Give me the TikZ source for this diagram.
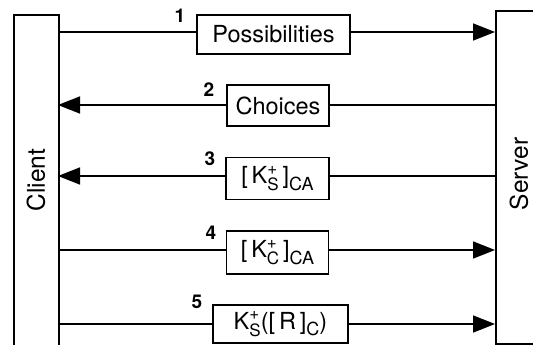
\documentclass[tikz,border=0pt]{standalone}
\usepackage{fontspec}
\setmainfont{TeX Gyre Heros}
\usetikzlibrary{arrows.meta}
\newcommand\supsubx[2]{\rlap{\raisebox{.8ex}{\fontsize{17}{17}\selectfont #1}}\raisebox{-.55ex}{\fontsize{17}{17}\selectfont #2}}
\newcommand\subx[1]{\raisebox{-.5ex}{\fontsize{18}{18}\selectfont #1}}
\begin{document}
\begin{tikzpicture}[x=1pt,y=-1pt,
  lane/.style={draw,line width=1.6pt,minimum width=45pt,inner sep=0pt},
  msgbox/.style={draw,line width=1.6pt,inner sep=0pt,font=\fontsize{23.5}{23.5}\selectfont},
  lanelabel/.style={rotate=90,font=\fontsize{24.5}{24.5}\selectfont,inner sep=0pt},
  num/.style={font=\fontsize{19}{19}\selectfont\bfseries,inner sep=0pt},
  conn/.style={line width=1.7pt},
  tip/.style={-{Triangle[length=22pt,width=17pt]}}]
\useasboundingbox (0,0) rectangle (533,345);
\clip (0,0) rectangle (533,345);
\fill[white] (0,0) rectangle (533,345);
% lanes
\node[lane,minimum height=360pt,anchor=north west] (client) at (13,14) {};
\node[lane,minimum height=333pt,anchor=north west] (server) at (495,10) {};
\node[lanelabel] (clientlbl) at (36,180) {Client};
\node[lanelabel] (serverlbl) at (519,174) {Server};
% message boxes
\node[msgbox,minimum width=153pt,minimum height=39pt] (b1) at (273.5,34.5) {Possibilities};
\node[msgbox,minimum width=102pt,minimum height=41pt] (b2) at (278,105.5) {Choices};
\node[msgbox,minimum width=103pt,minimum height=42pt] (b3) at (277.5,178.5) {[\,K\supsubx{+}{S}\,]\subx{CA}};
\node[msgbox,minimum width=102pt,minimum height=43pt] (b4) at (277.5,252.5) {[\,K\supsubx{+}{C}\,]\subx{CA}};
\node[msgbox,minimum width=135pt,minimum height=38pt] (b5) at (280.5,324) {K\supsubx{+}{S}([\,R\,]\subx{C})};
% numbers
\node[num] (n1) at (180,16) {1};
\node[num] (n2) at (209,90) {2};
\node[num] (n3) at (210,159) {3};
\node[num] (n4) at (211,233) {4};
\node[num] (n5) at (197,302) {5};
% connector end points on the lanes
\coordinate (c1) at (58,32);  \coordinate (s1) at (495,32);
\coordinate (c2) at (58,105); \coordinate (s2) at (495,105);
\coordinate (c3) at (58,176); \coordinate (s3) at (495,176);
\coordinate (c4) at (58,250); \coordinate (s4) at (495,250);
\coordinate (c5) at (58,324); \coordinate (s5) at (495,324);
% connectors
\draw[conn] (c1) -- (c1 -| b1.west);
\draw[conn,tip] (s1 -| b1.east) -- (s1);
\draw[conn] (s2) -- (s2 -| b2.east);
\draw[conn,tip] (c2 -| b2.west) -- (c2);
\draw[conn] (s3) -- (s3 -| b3.east);
\draw[conn,tip] (c3 -| b3.west) -- (c3);
\draw[conn] (c4) -- (c4 -| b4.west);
\draw[conn,tip] (s4 -| b4.east) -- (s4);
\draw[conn] (c5) -- (c5 -| b5.west);
\draw[conn,tip] (s5 -| b5.east) -- (s5);
\end{tikzpicture}
\end{document}
